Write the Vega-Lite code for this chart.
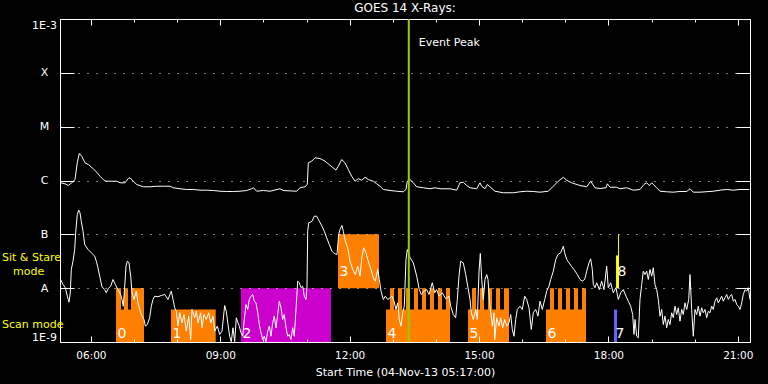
{
  "$schema": "https://vega.github.io/schema/vega-lite/v6.json",
  "width": 690,
  "height": 323,
  "autosize": {"type": "none"},
  "padding": {"left": 60, "top": 19, "right": 18, "bottom": 42},
  "background": "#000000",
  "config": {
    "view": {"stroke": "#ffffff", "strokeWidth": 1},
    "font": "DejaVu Sans",
    "text": {"font": "DejaVu Sans"},
    "axis": {"labelFont": "DejaVu Sans", "titleFont": "DejaVu Sans"}
  },
  "title": {"text": "GOES 14 X-Rays:", "color": "#ffffff", "fontSize": 12, "fontWeight": "normal", "font": "DejaVu Sans", "anchor": "middle", "offset": 3},
  "datasets": {
    "bars": [
      {"start": 6.582, "end": 7.231, "bottom": 1e-9, "top": 4e-9, "program": "P1", "label": "0"},
      {"start": 6.582, "end": 6.698, "bottom": 1e-9, "top": 1e-8, "program": "P1"},
      {"start": 6.767, "end": 6.860, "bottom": 1e-9, "top": 1e-8, "program": "P1"},
      {"start": 6.930, "end": 7.231, "bottom": 1e-9, "top": 1e-8, "program": "P1"},
      {"start": 7.857, "end": 8.894, "bottom": 1e-9, "top": 4e-9, "program": "P1", "label": "1"},
      {"start": 9.480, "end": 11.567, "bottom": 1e-9, "top": 1e-8, "program": "P2", "label": "2"},
      {"start": 11.730, "end": 12.680, "bottom": 1e-8, "top": 1e-7, "program": "P1", "label": "3"},
      {"start": 12.843, "end": 14.327, "bottom": 1e-9, "top": 4e-9, "program": "P1", "label": "4"},
      {"start": 12.936, "end": 13.028, "bottom": 1e-9, "top": 1e-8, "program": "P1"},
      {"start": 13.121, "end": 13.214, "bottom": 1e-9, "top": 1e-8, "program": "P1"},
      {"start": 13.306, "end": 13.399, "bottom": 1e-9, "top": 1e-8, "program": "P1"},
      {"start": 13.492, "end": 13.585, "bottom": 1e-9, "top": 1e-8, "program": "P1"},
      {"start": 13.677, "end": 13.770, "bottom": 1e-9, "top": 1e-8, "program": "P1"},
      {"start": 13.863, "end": 13.956, "bottom": 1e-9, "top": 1e-8, "program": "P1"},
      {"start": 14.048, "end": 14.141, "bottom": 1e-9, "top": 1e-8, "program": "P1"},
      {"start": 14.234, "end": 14.327, "bottom": 1e-9, "top": 1e-8, "program": "P1"},
      {"start": 14.744, "end": 15.695, "bottom": 1e-9, "top": 4e-9, "program": "P1", "label": "5"},
      {"start": 14.837, "end": 14.930, "bottom": 1e-9, "top": 1e-8, "program": "P1"},
      {"start": 15.022, "end": 15.115, "bottom": 1e-9, "top": 1e-8, "program": "P1"},
      {"start": 15.208, "end": 15.301, "bottom": 1e-9, "top": 1e-8, "program": "P1"},
      {"start": 15.394, "end": 15.486, "bottom": 1e-9, "top": 1e-8, "program": "P1"},
      {"start": 15.579, "end": 15.695, "bottom": 1e-9, "top": 1e-8, "program": "P1"},
      {"start": 16.553, "end": 17.481, "bottom": 1e-9, "top": 4e-9, "program": "P1", "label": "6"},
      {"start": 16.646, "end": 16.739, "bottom": 1e-9, "top": 1e-8, "program": "P1"},
      {"start": 16.832, "end": 16.924, "bottom": 1e-9, "top": 1e-8, "program": "P1"},
      {"start": 17.017, "end": 17.110, "bottom": 1e-9, "top": 1e-8, "program": "P1"},
      {"start": 17.202, "end": 17.295, "bottom": 1e-9, "top": 1e-8, "program": "P1"},
      {"start": 17.388, "end": 17.481, "bottom": 1e-9, "top": 1e-8, "program": "P1"},
      {"start": 18.130, "end": 18.200, "bottom": 1e-9, "top": 4e-9, "program": "P3", "label": "7"},
      {"start": 18.223, "end": 18.246, "bottom": 1e-8, "top": 1e-7, "program": "P4"},
      {"start": 18.177, "end": 18.246, "bottom": 1e-8, "top": 4.06e-8, "program": "P4", "label": "8"}
    ],
    "peak": [{"hour": 13.371, "event": "Event Peak"}],
    "modes": [
      {"mode": "Sit & Stare", "flux": 3.13e-8, "indent": 0},
      {"mode": "mode", "flux": 1.72e-8, "indent": 1},
      {"mode": "Scan mode", "flux": 1.84e-9, "indent": 0}
    ],
    "long": [
      {"hour": 5.300, "flux": 9.06e-7}, {"hour": 5.399, "flux": 8.69e-7}, {"hour": 5.476, "flux": 8.07e-7}, {"hour": 5.555, "flux": 9.06e-7},
      {"hour": 5.631, "flux": 1.04e-6}, {"hour": 5.684, "flux": 2.13e-6}, {"hour": 5.731, "flux": 3.18e-6}, {"hour": 5.786, "flux": 2.83e-6},
      {"hour": 5.863, "flux": 2.13e-6}, {"hour": 5.940, "flux": 1.98e-6}, {"hour": 6.055, "flux": 1.65e-6}, {"hour": 6.134, "flux": 1.43e-6},
      {"hour": 6.211, "flux": 1.20e-6}, {"hour": 6.287, "flux": 1.04e-6}, {"hour": 6.350, "flux": 9.7e-7}, {"hour": 6.598, "flux": 9.7e-7},
      {"hour": 6.675, "flux": 9.06e-7}, {"hour": 6.791, "flux": 9.06e-7}, {"hour": 6.867, "flux": 1.09e-6}, {"hour": 6.907, "flux": 1.12e-6},
      {"hour": 6.983, "flux": 9.7e-7}, {"hour": 7.062, "flux": 8.43e-7}, {"hour": 7.215, "flux": 7.64e-7}, {"hour": 7.370, "flux": 7.64e-7},
      {"hour": 7.526, "flux": 7.83e-7}, {"hour": 7.679, "flux": 7.83e-7}, {"hour": 7.834, "flux": 7.83e-7}, {"hour": 7.911, "flux": 7.33e-7},
      {"hour": 8.066, "flux": 7.02e-7}, {"hour": 8.221, "flux": 6.81e-7}, {"hour": 8.374, "flux": 6.81e-7}, {"hour": 8.530, "flux": 6.61e-7},
      {"hour": 8.685, "flux": 6.61e-7}, {"hour": 8.838, "flux": 6.52e-7}, {"hour": 8.994, "flux": 6.32e-7}, {"hour": 9.149, "flux": 6.25e-7},
      {"hour": 9.302, "flux": 6.25e-7}, {"hour": 9.457, "flux": 6.32e-7}, {"hour": 9.613, "flux": 6.52e-7}, {"hour": 9.728, "flux": 7.02e-7},
      {"hour": 9.770, "flux": 7.33e-7}, {"hour": 9.845, "flux": 6.32e-7}, {"hour": 9.998, "flux": 6.52e-7}, {"hour": 10.153, "flux": 6.32e-7},
      {"hour": 10.385, "flux": 7.02e-7}, {"hour": 10.461, "flux": 6.52e-7}, {"hour": 10.772, "flux": 6.32e-7}, {"hour": 10.849, "flux": 7.33e-7},
      {"hour": 10.964, "flux": 7.64e-7}, {"hour": 11.018, "flux": 8.43e-7}, {"hour": 11.041, "flux": 2.13e-6}, {"hour": 11.120, "flux": 2.29e-6},
      {"hour": 11.196, "flux": 2.64e-6}, {"hour": 11.312, "flux": 2.56e-6}, {"hour": 11.428, "flux": 2.29e-6}, {"hour": 11.544, "flux": 1.92e-6},
      {"hour": 11.683, "flux": 1.56e-6}, {"hour": 11.737, "flux": 1.85e-6}, {"hour": 11.816, "flux": 2.45e-6}, {"hour": 11.892, "flux": 2.13e-6},
      {"hour": 11.969, "flux": 1.60e-6}, {"hour": 12.047, "flux": 1.20e-6}, {"hour": 12.124, "flux": 9.7e-7}, {"hour": 12.200, "flux": 1.08e-6},
      {"hour": 12.279, "flux": 1.01e-6}, {"hour": 12.356, "flux": 1.15e-6}, {"hour": 12.432, "flux": 1.04e-6}, {"hour": 12.548, "flux": 9.7e-7},
      {"hour": 12.627, "flux": 8.69e-7}, {"hour": 12.704, "flux": 7.83e-7}, {"hour": 12.780, "flux": 6.81e-7}, {"hour": 12.936, "flux": 6.52e-7},
      {"hour": 13.091, "flux": 6.32e-7}, {"hour": 13.244, "flux": 6.17e-7}, {"hour": 13.306, "flux": 6.81e-7}, {"hour": 13.337, "flux": 9.7e-7},
      {"hour": 13.399, "flux": 1.04e-6}, {"hour": 13.476, "flux": 9.06e-7}, {"hour": 13.555, "flux": 7.64e-7}, {"hour": 13.708, "flux": 7.33e-7},
      {"hour": 13.863, "flux": 7.02e-7}, {"hour": 13.979, "flux": 7.33e-7}, {"hour": 14.095, "flux": 7.02e-7}, {"hour": 14.327, "flux": 7.02e-7},
      {"hour": 14.482, "flux": 6.61e-7}, {"hour": 14.559, "flux": 9.06e-7}, {"hour": 14.635, "flux": 9.3e-7}, {"hour": 14.714, "flux": 8.07e-7},
      {"hour": 14.791, "flux": 7.33e-7}, {"hour": 14.946, "flux": 7.02e-7}, {"hour": 15.022, "flux": 9.06e-7}, {"hour": 15.062, "flux": 7.83e-7},
      {"hour": 15.138, "flux": 7.02e-7}, {"hour": 15.192, "flux": 8.43e-7}, {"hour": 15.254, "flux": 7.64e-7}, {"hour": 15.370, "flux": 6.32e-7},
      {"hour": 15.563, "flux": 5.92e-7}, {"hour": 15.795, "flux": 5.92e-7}, {"hour": 15.950, "flux": 6.17e-7}, {"hour": 16.105, "flux": 6.32e-7},
      {"hour": 16.258, "flux": 6.25e-7}, {"hour": 16.414, "flux": 6.07e-7}, {"hour": 16.606, "flux": 6.32e-7}, {"hour": 16.722, "flux": 7.83e-7},
      {"hour": 16.838, "flux": 9.7e-7}, {"hour": 16.954, "flux": 1.15e-6}, {"hour": 17.033, "flux": 1.01e-6}, {"hour": 17.149, "flux": 9.06e-7},
      {"hour": 17.341, "flux": 8.07e-7}, {"hour": 17.497, "flux": 7.64e-7}, {"hour": 17.589, "flux": 9.7e-7}, {"hour": 17.689, "flux": 7.33e-7},
      {"hour": 17.805, "flux": 7.1e-7}, {"hour": 17.944, "flux": 7.33e-7}, {"hour": 17.975, "flux": 8.69e-7}, {"hour": 18.037, "flux": 7.5e-7},
      {"hour": 18.192, "flux": 7.5e-7}, {"hour": 18.269, "flux": 7.02e-7}, {"hour": 18.424, "flux": 7.33e-7}, {"hour": 18.577, "flux": 6.61e-7},
      {"hour": 18.732, "flux": 6.81e-7}, {"hour": 18.825, "flux": 8.43e-7}, {"hour": 18.887, "flux": 9.06e-7}, {"hour": 18.948, "flux": 8.07e-7},
      {"hour": 19.004, "flux": 9.06e-7}, {"hour": 19.057, "flux": 8.2e-7}, {"hour": 19.119, "flux": 7.33e-7}, {"hour": 19.196, "flux": 6.32e-7},
      {"hour": 19.351, "flux": 6.17e-7}, {"hour": 19.504, "flux": 6.07e-7}, {"hour": 19.660, "flux": 6.25e-7}, {"hour": 19.815, "flux": 6.25e-7},
      {"hour": 19.892, "flux": 7.02e-7}, {"hour": 19.968, "flux": 6.07e-7}, {"hour": 20.124, "flux": 6.07e-7}, {"hour": 20.432, "flux": 6.32e-7},
      {"hour": 20.588, "flux": 6.61e-7}, {"hour": 20.743, "flux": 6.81e-7}, {"hour": 20.896, "flux": 6.61e-7}, {"hour": 21.052, "flux": 6.81e-7},
      {"hour": 21.267, "flux": 6.81e-7}
    ],
    "short": [
      {"hour": 5.300, "flux": 1.45e-8}, {"hour": 5.353, "flux": 1.17e-8}, {"hour": 5.406, "flux": 1.02e-8}, {"hour": 5.453, "flux": 7.1e-9},
      {"hour": 5.492, "flux": 5.5e-9}, {"hour": 5.522, "flux": 8.2e-9}, {"hour": 5.545, "flux": 2.22e-8}, {"hour": 5.585, "flux": 3.17e-8},
      {"hour": 5.624, "flux": 5.23e-8}, {"hour": 5.647, "flux": 1.07e-7}, {"hour": 5.684, "flux": 2.34e-7}, {"hour": 5.717, "flux": 2.81e-7},
      {"hour": 5.747, "flux": 2.51e-7}, {"hour": 5.777, "flux": 1.75e-7}, {"hour": 5.817, "flux": 1.14e-7}, {"hour": 5.856, "flux": 6.47e-8},
      {"hour": 5.933, "flux": 5.23e-8}, {"hour": 6.009, "flux": 4.54e-8}, {"hour": 6.088, "flux": 3.93e-8}, {"hour": 6.125, "flux": 3.17e-8},
      {"hour": 6.164, "flux": 2.39e-8}, {"hour": 6.204, "flux": 1.67e-8}, {"hour": 6.257, "flux": 1.06e-8}, {"hour": 6.320, "flux": 9.4e-9},
      {"hour": 6.357, "flux": 8.2e-9}, {"hour": 6.396, "flux": 9.7e-9}, {"hour": 6.459, "flux": 1.09e-8}, {"hour": 6.512, "flux": 1.45e-8},
      {"hour": 6.566, "flux": 1.17e-8}, {"hour": 6.628, "flux": 9.4e-9}, {"hour": 6.705, "flux": 7.1e-9}, {"hour": 6.751, "flux": 4.62e-9},
      {"hour": 6.784, "flux": 1.09e-8}, {"hour": 6.814, "flux": 2.56e-8}, {"hour": 6.844, "flux": 3.17e-8}, {"hour": 6.883, "flux": 2.96e-8},
      {"hour": 6.923, "flux": 1.67e-8}, {"hour": 6.953, "flux": 8.2e-9}, {"hour": 6.999, "flux": 6.16e-9}, {"hour": 7.053, "flux": 8.8e-9},
      {"hour": 7.092, "flux": 5.35e-9}, {"hour": 7.131, "flux": 4.02e-9}, {"hour": 7.168, "flux": 3.24e-9}, {"hour": 7.231, "flux": 2.62e-9},
      {"hour": 7.261, "flux": 1.97e-9}, {"hour": 7.308, "flux": 2.11e-9}, {"hour": 7.363, "flux": 2.82e-9}, {"hour": 7.400, "flux": 4.62e-9},
      {"hour": 7.440, "flux": 6.16e-9}, {"hour": 7.479, "flux": 7.1e-9}, {"hour": 7.556, "flux": 6.92e-9}, {"hour": 7.632, "flux": 7.31e-9},
      {"hour": 7.711, "flux": 7.63e-9}, {"hour": 7.788, "flux": 6.16e-9}, {"hour": 7.864, "flux": 8.8e-9}, {"hour": 7.904, "flux": 6.16e-9},
      {"hour": 7.943, "flux": 4.32e-9}, {"hour": 7.980, "flux": 3.73e-9}, {"hour": 8.019, "flux": 1.97e-9}, {"hour": 8.059, "flux": 3.49e-9},
      {"hour": 8.112, "flux": 2.27e-9}, {"hour": 8.159, "flux": 3.24e-9}, {"hour": 8.212, "flux": 1.59e-9}, {"hour": 8.268, "flux": 3.02e-9},
      {"hour": 8.314, "flux": 1.11e-9}, {"hour": 8.344, "flux": 4.02e-9}, {"hour": 8.407, "flux": 2.82e-9}, {"hour": 8.444, "flux": 3.73e-9},
      {"hour": 8.483, "flux": 2.27e-9}, {"hour": 8.546, "flux": 3.49e-9}, {"hour": 8.576, "flux": 1.84e-9}, {"hour": 8.622, "flux": 3.24e-9},
      {"hour": 8.676, "flux": 2.62e-9}, {"hour": 8.731, "flux": 3.49e-9}, {"hour": 8.778, "flux": 2.27e-9}, {"hour": 8.831, "flux": 3.02e-9},
      {"hour": 8.871, "flux": 1.59e-9}, {"hour": 8.931, "flux": 1.97e-9}, {"hour": 8.986, "flux": 1.38e-9}, {"hour": 9.040, "flux": 1.59e-9},
      {"hour": 9.102, "flux": 4.76e-9}, {"hour": 9.139, "flux": 3.73e-9}, {"hour": 9.179, "flux": 2.11e-9}, {"hour": 9.218, "flux": 1.28e-9},
      {"hour": 9.255, "flux": 1.01e-9}, {"hour": 9.295, "flux": 1.84e-9}, {"hour": 9.334, "flux": 1.01e-9}, {"hour": 9.371, "flux": 2.82e-9},
      {"hour": 9.411, "flux": 2.27e-9}, {"hour": 9.441, "flux": 1.97e-9}, {"hour": 9.480, "flux": 1.48e-9}, {"hour": 9.520, "flux": 1.28e-9},
      {"hour": 9.557, "flux": 2.62e-9}, {"hour": 9.596, "flux": 4.97e-9}, {"hour": 9.636, "flux": 4.02e-9}, {"hour": 9.673, "flux": 6.16e-9},
      {"hour": 9.712, "flux": 7.1e-9}, {"hour": 9.752, "flux": 7.63e-9}, {"hour": 9.789, "flux": 5.73e-9}, {"hour": 9.828, "flux": 5.35e-9},
      {"hour": 9.868, "flux": 3.49e-9}, {"hour": 9.905, "flux": 2.11e-9}, {"hour": 9.944, "flux": 1.48e-9}, {"hour": 9.984, "flux": 1.11e-9},
      {"hour": 10.021, "flux": 1.28e-9}, {"hour": 10.060, "flux": 1.01e-9}, {"hour": 10.100, "flux": 1.59e-9}, {"hour": 10.137, "flux": 1.97e-9},
      {"hour": 10.176, "flux": 1.28e-9}, {"hour": 10.215, "flux": 2.27e-9}, {"hour": 10.252, "flux": 3.02e-9}, {"hour": 10.292, "flux": 1.84e-9},
      {"hour": 10.331, "flux": 3.24e-9}, {"hour": 10.368, "flux": 5.73e-9}, {"hour": 10.408, "flux": 4.32e-9}, {"hour": 10.447, "flux": 2.62e-9},
      {"hour": 10.484, "flux": 3.24e-9}, {"hour": 10.524, "flux": 1.84e-9}, {"hour": 10.563, "flux": 1.28e-9}, {"hour": 10.600, "flux": 1.38e-9},
      {"hour": 10.640, "flux": 1.11e-9}, {"hour": 10.679, "flux": 1.84e-9}, {"hour": 10.716, "flux": 1.28e-9}, {"hour": 10.756, "flux": 4.02e-9},
      {"hour": 10.795, "flux": 1.35e-8}, {"hour": 10.832, "flux": 1.26e-8}, {"hour": 10.872, "flux": 1.02e-8}, {"hour": 10.911, "flux": 1.09e-8},
      {"hour": 10.948, "flux": 7.1e-9}, {"hour": 10.988, "flux": 6.16e-9}, {"hour": 11.011, "flux": 1.09e-8}, {"hour": 11.027, "flux": 1.14e-7},
      {"hour": 11.050, "flux": 1.64e-7}, {"hour": 11.080, "flux": 1.67e-7}, {"hour": 11.127, "flux": 1.75e-7}, {"hour": 11.180, "flux": 2.17e-7},
      {"hour": 11.236, "flux": 2.17e-7}, {"hour": 11.296, "flux": 1.75e-7}, {"hour": 11.358, "flux": 1.42e-7}, {"hour": 11.412, "flux": 1.14e-7},
      {"hour": 11.467, "flux": 8.6e-8}, {"hour": 11.528, "flux": 6.47e-8}, {"hour": 11.590, "flux": 4.86e-8}, {"hour": 11.643, "flux": 4.41e-8},
      {"hour": 11.706, "flux": 4.22e-8}, {"hour": 11.746, "flux": 9.9e-8}, {"hour": 11.776, "flux": 1.23e-7}, {"hour": 11.822, "flux": 1.46e-7},
      {"hour": 11.853, "flux": 1.14e-7}, {"hour": 11.899, "flux": 7.46e-8}, {"hour": 11.955, "flux": 5.62e-8}, {"hour": 12.008, "flux": 3.17e-8},
      {"hour": 12.071, "flux": 2.22e-8}, {"hour": 12.131, "flux": 1.79e-8}, {"hour": 12.187, "flux": 2.56e-8}, {"hour": 12.240, "flux": 1.67e-8},
      {"hour": 12.287, "flux": 3.93e-8}, {"hour": 12.326, "flux": 5.62e-8}, {"hour": 12.379, "flux": 4.54e-8}, {"hour": 12.419, "flux": 3.41e-8},
      {"hour": 12.456, "flux": 2.75e-8}, {"hour": 12.495, "flux": 2.22e-8}, {"hour": 12.549, "flux": 1.56e-8}, {"hour": 12.595, "flux": 1.35e-8},
      {"hour": 12.651, "flux": 2.22e-8}, {"hour": 12.688, "flux": 1.45e-8}, {"hour": 12.727, "flux": 8.8e-9}, {"hour": 12.780, "flux": 6.16e-9},
      {"hour": 12.827, "flux": 7.1e-9}, {"hour": 12.883, "flux": 6.16e-9}, {"hour": 12.936, "flux": 6.62e-9}, {"hour": 12.982, "flux": 7.1e-9},
      {"hour": 13.028, "flux": 5.73e-9}, {"hour": 13.075, "flux": 4.02e-9}, {"hour": 13.114, "flux": 5.35e-9}, {"hour": 13.151, "flux": 2.62e-9},
      {"hour": 13.191, "flux": 1.97e-9}, {"hour": 13.230, "flux": 3.49e-9}, {"hour": 13.267, "flux": 4.62e-9}, {"hour": 13.306, "flux": 3.41e-8},
      {"hour": 13.337, "flux": 5.23e-8}, {"hour": 13.399, "flux": 3.71e-8}, {"hour": 13.476, "flux": 2.96e-8}, {"hour": 13.555, "flux": 1.67e-8},
      {"hour": 13.615, "flux": 9.4e-9}, {"hour": 13.661, "flux": 7.63e-9}, {"hour": 13.724, "flux": 8.8e-9}, {"hour": 13.786, "flux": 9.4e-9},
      {"hour": 13.840, "flux": 7.63e-9}, {"hour": 13.916, "flux": 1.26e-8}, {"hour": 13.972, "flux": 8.2e-9}, {"hour": 14.018, "flux": 9.4e-9},
      {"hour": 14.072, "flux": 7.1e-9}, {"hour": 14.148, "flux": 8.2e-9}, {"hour": 14.227, "flux": 6.35e-9}, {"hour": 14.304, "flux": 7.1e-9},
      {"hour": 14.343, "flux": 4.62e-9}, {"hour": 14.403, "flux": 3.24e-9}, {"hour": 14.459, "flux": 2.82e-9}, {"hour": 14.496, "flux": 6.16e-9},
      {"hour": 14.535, "flux": 1.67e-8}, {"hour": 14.575, "flux": 3.17e-8}, {"hour": 14.635, "flux": 2.96e-8}, {"hour": 14.691, "flux": 1.79e-8},
      {"hour": 14.744, "flux": 1.02e-8}, {"hour": 14.791, "flux": 6.16e-9}, {"hour": 14.821, "flux": 3.49e-9}, {"hour": 14.867, "flux": 2.62e-9},
      {"hour": 14.923, "flux": 4.02e-9}, {"hour": 14.960, "flux": 2.62e-9}, {"hour": 15.000, "flux": 2.07e-8}, {"hour": 15.030, "flux": 4.41e-8},
      {"hour": 15.062, "flux": 1.45e-8}, {"hour": 15.099, "flux": 6.16e-9}, {"hour": 15.138, "flux": 1.45e-8}, {"hour": 15.178, "flux": 1.79e-8},
      {"hour": 15.208, "flux": 1.45e-8}, {"hour": 15.254, "flux": 4.62e-9}, {"hour": 15.308, "flux": 1.97e-9}, {"hour": 15.347, "flux": 3.49e-9},
      {"hour": 15.363, "flux": 1.11e-9}, {"hour": 15.410, "flux": 2.82e-9}, {"hour": 15.463, "flux": 1.97e-9}, {"hour": 15.502, "flux": 2.82e-9},
      {"hour": 15.549, "flux": 1.84e-9}, {"hour": 15.595, "flux": 2.62e-9}, {"hour": 15.642, "flux": 1.97e-9}, {"hour": 15.695, "flux": 2.27e-9},
      {"hour": 15.734, "flux": 3.24e-9}, {"hour": 15.771, "flux": 1.71e-9}, {"hour": 15.811, "flux": 1.28e-9}, {"hour": 15.850, "flux": 2.62e-9},
      {"hour": 15.887, "flux": 4.02e-9}, {"hour": 15.950, "flux": 4.62e-9}, {"hour": 16.003, "flux": 4.02e-9}, {"hour": 16.059, "flux": 7.1e-9},
      {"hour": 16.105, "flux": 6.16e-9}, {"hour": 16.159, "flux": 4.32e-9}, {"hour": 16.212, "flux": 1.71e-9}, {"hour": 16.258, "flux": 3.49e-9},
      {"hour": 16.314, "flux": 4.02e-9}, {"hour": 16.367, "flux": 3.02e-9}, {"hour": 16.414, "flux": 5.73e-9}, {"hour": 16.467, "flux": 4.02e-9},
      {"hour": 16.523, "flux": 6.16e-9}, {"hour": 16.569, "flux": 8.8e-9}, {"hour": 16.622, "flux": 1.09e-8}, {"hour": 16.662, "flux": 1.45e-8},
      {"hour": 16.722, "flux": 2.07e-8}, {"hour": 16.778, "flux": 3.41e-8}, {"hour": 16.831, "flux": 4.22e-8}, {"hour": 16.894, "flux": 4.54e-8},
      {"hour": 16.954, "flux": 6.02e-8}, {"hour": 16.986, "flux": 4.54e-8}, {"hour": 17.033, "flux": 3.41e-8}, {"hour": 17.086, "flux": 2.96e-8},
      {"hour": 17.140, "flux": 2.56e-8}, {"hour": 17.202, "flux": 2.22e-8}, {"hour": 17.279, "flux": 1.79e-8}, {"hour": 17.341, "flux": 1.45e-8},
      {"hour": 17.394, "flux": 1.35e-8}, {"hour": 17.450, "flux": 1.45e-8}, {"hour": 17.497, "flux": 2.07e-8}, {"hour": 17.550, "flux": 2.96e-8},
      {"hour": 17.589, "flux": 3.51e-8}, {"hour": 17.627, "flux": 2.22e-8}, {"hour": 17.650, "flux": 1.17e-8}, {"hour": 17.689, "flux": 1.02e-8},
      {"hour": 17.728, "flux": 1.26e-8}, {"hour": 17.789, "flux": 9.4e-9}, {"hour": 17.844, "flux": 1.35e-8}, {"hour": 17.898, "flux": 9.4e-9},
      {"hour": 17.960, "flux": 2.56e-8}, {"hour": 17.997, "flux": 1.02e-8}, {"hour": 18.053, "flux": 1.26e-8}, {"hour": 18.113, "flux": 8.2e-9},
      {"hour": 18.176, "flux": 1.02e-8}, {"hour": 18.229, "flux": 6.16e-9}, {"hour": 18.285, "flux": 8.2e-9}, {"hour": 18.345, "flux": 9.4e-9},
      {"hour": 18.408, "flux": 7.1e-9}, {"hour": 18.461, "flux": 5.73e-9}, {"hour": 18.517, "flux": 4.62e-9}, {"hour": 18.563, "flux": 3.24e-9},
      {"hour": 18.593, "flux": 1.38e-9}, {"hour": 18.617, "flux": 2.62e-9}, {"hour": 18.656, "flux": 1.28e-9}, {"hour": 18.693, "flux": 1.2e-9},
      {"hour": 18.732, "flux": 6.16e-9}, {"hour": 18.772, "flux": 1.17e-8}, {"hour": 18.809, "flux": 2.07e-8}, {"hour": 18.849, "flux": 1.79e-8},
      {"hour": 18.888, "flux": 2.07e-8}, {"hour": 18.925, "flux": 1.45e-8}, {"hour": 18.964, "flux": 2.22e-8}, {"hour": 19.004, "flux": 1.67e-8},
      {"hour": 19.041, "flux": 2.39e-8}, {"hour": 19.080, "flux": 1.17e-8}, {"hour": 19.120, "flux": 9.4e-9}, {"hour": 19.157, "flux": 6.16e-9},
      {"hour": 19.196, "flux": 3.02e-9}, {"hour": 19.236, "flux": 4.02e-9}, {"hour": 19.273, "flux": 2.11e-9}, {"hour": 19.312, "flux": 3.02e-9},
      {"hour": 19.351, "flux": 1.84e-9}, {"hour": 19.388, "flux": 2.62e-9}, {"hour": 19.428, "flux": 2.11e-9}, {"hour": 19.467, "flux": 3.49e-9},
      {"hour": 19.504, "flux": 2.82e-9}, {"hour": 19.544, "flux": 4.62e-9}, {"hour": 19.583, "flux": 3.24e-9}, {"hour": 19.620, "flux": 4.32e-9},
      {"hour": 19.660, "flux": 2.43e-9}, {"hour": 19.699, "flux": 4.02e-9}, {"hour": 19.736, "flux": 3.24e-9}, {"hour": 19.776, "flux": 5.35e-9},
      {"hour": 19.815, "flux": 4.02e-9}, {"hour": 19.862, "flux": 6.16e-9}, {"hour": 19.892, "flux": 1.79e-8}, {"hour": 19.931, "flux": 4.02e-9},
      {"hour": 19.968, "flux": 1.28e-9}, {"hour": 20.008, "flux": 4.02e-9}, {"hour": 20.047, "flux": 3.24e-9}, {"hour": 20.084, "flux": 4.62e-9},
      {"hour": 20.124, "flux": 3.02e-9}, {"hour": 20.163, "flux": 4.32e-9}, {"hour": 20.200, "flux": 3.49e-9}, {"hour": 20.240, "flux": 4.02e-9},
      {"hour": 20.279, "flux": 2.82e-9}, {"hour": 20.316, "flux": 3.73e-9}, {"hour": 20.356, "flux": 3.49e-9}, {"hour": 20.395, "flux": 4.62e-9},
      {"hour": 20.432, "flux": 4.02e-9}, {"hour": 20.472, "flux": 5.73e-9}, {"hour": 20.511, "flux": 6.62e-9}, {"hour": 20.548, "flux": 5.35e-9},
      {"hour": 20.588, "flux": 6.16e-9}, {"hour": 20.627, "flux": 7.1e-9}, {"hour": 20.664, "flux": 5.73e-9}, {"hour": 20.703, "flux": 6.62e-9},
      {"hour": 20.743, "flux": 7.63e-9}, {"hour": 20.780, "flux": 6.16e-9}, {"hour": 20.819, "flux": 7.1e-9}, {"hour": 20.859, "flux": 7.63e-9},
      {"hour": 20.896, "flux": 5.73e-9}, {"hour": 20.936, "flux": 6.16e-9}, {"hour": 20.975, "flux": 4.97e-9}, {"hour": 21.012, "flux": 4.62e-9},
      {"hour": 21.052, "flux": 4.02e-9}, {"hour": 21.091, "flux": 5.35e-9}, {"hour": 21.128, "flux": 7.63e-9}, {"hour": 21.168, "flux": 9.4e-9},
      {"hour": 21.207, "flux": 8.8e-9}, {"hour": 21.244, "flux": 1.02e-8}, {"hour": 21.283, "flux": 6.16e-9}
    ]
  },
  "layer": [
    {
      "data": {"name": "bars"},
      "mark": {"type": "rect"},
      "encoding": {
        "x": {
          "field": "start", "type": "quantitative",
          "scale": {"domain": [5.2833, 21.2833], "nice": false, "zero": false},
          "axis": {
            "orient": "bottom",
            "values": [6, 7, 8, 9, 10, 11, 12, 13, 14, 15, 16, 17, 18, 19, 20, 21],
            "labelExpr": "datum.value % 3 === 0 ? (datum.value < 10 ? '0' : '') + datum.value + ':00' : ''",
            "tickSize": {"condition": {"test": "datum.value % 3 === 0", "value": -6}, "value": -3},
            "tickColor": "#ffffff", "tickWidth": 1,
            "domain": false, "grid": false,
            "labelColor": "#ffffff", "labelFontSize": 10.5, "labelPadding": 14, "labelAngle": 0,
            "labelFlush": false, "labelOverlap": false, "labelBaseline": "top",
            "title": "Start Time (04-Nov-13 05:17:00)", "titleColor": "#ffffff", "titleFontSize": 11,
            "titleFontWeight": "normal", "titlePadding": 3,
            "zindex": 1
          }
        },
        "x2": {"field": "end"},
        "y": {
          "field": "top", "type": "quantitative",
          "scale": {"type": "log", "domain": [1e-9, 1e-3], "nice": false},
          "axis": {
            "orient": "left",
            "values": [1e-9, 1e-8, 1e-7, 1e-6, 1e-5, 1e-4, 1e-3],
            "labelExpr": "['1E-9','A','B','C','M','X','1E-3'][round(log(datum.value)/LN10)+9]",
            "tickSize": -14, "tickColor": "#ffffff", "tickWidth": 1,
            "domain": false,
            "grid": true, "gridColor": "#ffffff", "gridDash": [1, 8], "gridWidth": 1,
            "labelColor": "#ffffff", "labelFontSize": 11, "labelAlign": "center", "labelPadding": 30,
            "labelFlush": true, "labelOverlap": false,
            "title": null,
            "zindex": 1
          }
        },
        "y2": {"field": "bottom"},
        "color": {
          "field": "program", "type": "nominal",
          "scale": {"domain": ["P1", "P2", "P3", "P4"], "range": ["#ff8000", "#cc00cc", "#6464ff", "#ffff00"]},
          "legend": null
        }
      }
    },
    {
      "data": {"name": "long"},
      "mark": {"type": "line", "color": "#ffffff", "strokeWidth": 1, "clip": true},
      "encoding": {
        "x": {
          "field": "hour", "type": "quantitative",
          "axis": {
            "orient": "top",
            "values": [6, 7, 8, 9, 10, 11, 12, 13, 14, 15, 16, 17, 18, 19, 20, 21],
            "labels": false,
            "tickSize": {"condition": {"test": "datum.value % 3 === 0", "value": -6}, "value": -3},
            "tickColor": "#ffffff", "tickWidth": 1,
            "domain": false, "grid": false, "title": null, "zindex": 1
          }
        },
        "y": {
          "field": "flux", "type": "quantitative",
          "axis": {
            "orient": "right",
            "values": [1e-9, 1e-8, 1e-7, 1e-6, 1e-5, 1e-4, 1e-3],
            "labels": false,
            "tickSize": -14, "tickColor": "#ffffff", "tickWidth": 1,
            "domain": false, "grid": false, "title": null, "zindex": 1
          }
        }
      }
    },
    {
      "data": {"name": "short"},
      "mark": {"type": "line", "color": "#ffffff", "strokeWidth": 1, "clip": true},
      "encoding": {
        "x": {"field": "hour", "type": "quantitative", "axis": null},
        "y": {"field": "flux", "type": "quantitative", "axis": null}
      }
    },
    {
      "data": {"name": "bars"},
      "transform": [{"filter": "datum.label != null && datum.bottom < 5e-9"}],
      "mark": {"type": "text", "color": "#ffffff", "fontSize": 14, "align": "left", "baseline": "alphabetic", "dx": 1.5, "dy": -4},
      "encoding": {
        "x": {"field": "start", "type": "quantitative", "axis": null},
        "y": {"field": "bottom", "type": "quantitative", "axis": null},
        "text": {"field": "label"}
      }
    },
    {
      "data": {"name": "bars"},
      "transform": [{"filter": "datum.label != null && datum.bottom >= 5e-9"}],
      "mark": {"type": "text", "color": "#ffffff", "fontSize": 14, "align": "left", "baseline": "alphabetic", "dx": 1.5, "dy": -12},
      "encoding": {
        "x": {"field": "start", "type": "quantitative", "axis": null},
        "y": {"field": "bottom", "type": "quantitative", "axis": null},
        "text": {"field": "label"}
      }
    },
    {
      "data": {"name": "peak"},
      "mark": {"type": "rule", "color": "#99cc00", "strokeWidth": 2},
      "encoding": {
        "x": {"field": "hour", "type": "quantitative", "axis": null}
      }
    },
    {
      "data": {"name": "peak"},
      "mark": {"type": "text", "color": "#ffffff", "fontSize": 11, "align": "left", "baseline": "alphabetic", "dx": 10, "dy": 27},
      "encoding": {
        "x": {"field": "hour", "type": "quantitative", "axis": null},
        "y": {"datum": 1e-3, "type": "quantitative", "axis": null},
        "text": {"field": "event"}
      }
    },
    {
      "data": {"name": "modes"},
      "transform": [{"filter": "datum.indent == 0"}],
      "mark": {"type": "text", "color": "#ffff00", "fontSize": 11, "align": "left", "baseline": "alphabetic", "dx": -58},
      "encoding": {
        "x": {"datum": 5.2833, "type": "quantitative", "axis": null},
        "y": {"field": "flux", "type": "quantitative", "axis": null},
        "text": {"field": "mode"}
      }
    },
    {
      "data": {"name": "modes"},
      "transform": [{"filter": "datum.indent == 1"}],
      "mark": {"type": "text", "color": "#ffff00", "fontSize": 11, "align": "left", "baseline": "alphabetic", "dx": -47},
      "encoding": {
        "x": {"datum": 5.2833, "type": "quantitative", "axis": null},
        "y": {"field": "flux", "type": "quantitative", "axis": null},
        "text": {"field": "mode"}
      }
    }
  ],
  "resolve": {"axis": {"x": "independent", "y": "independent"}}
}
